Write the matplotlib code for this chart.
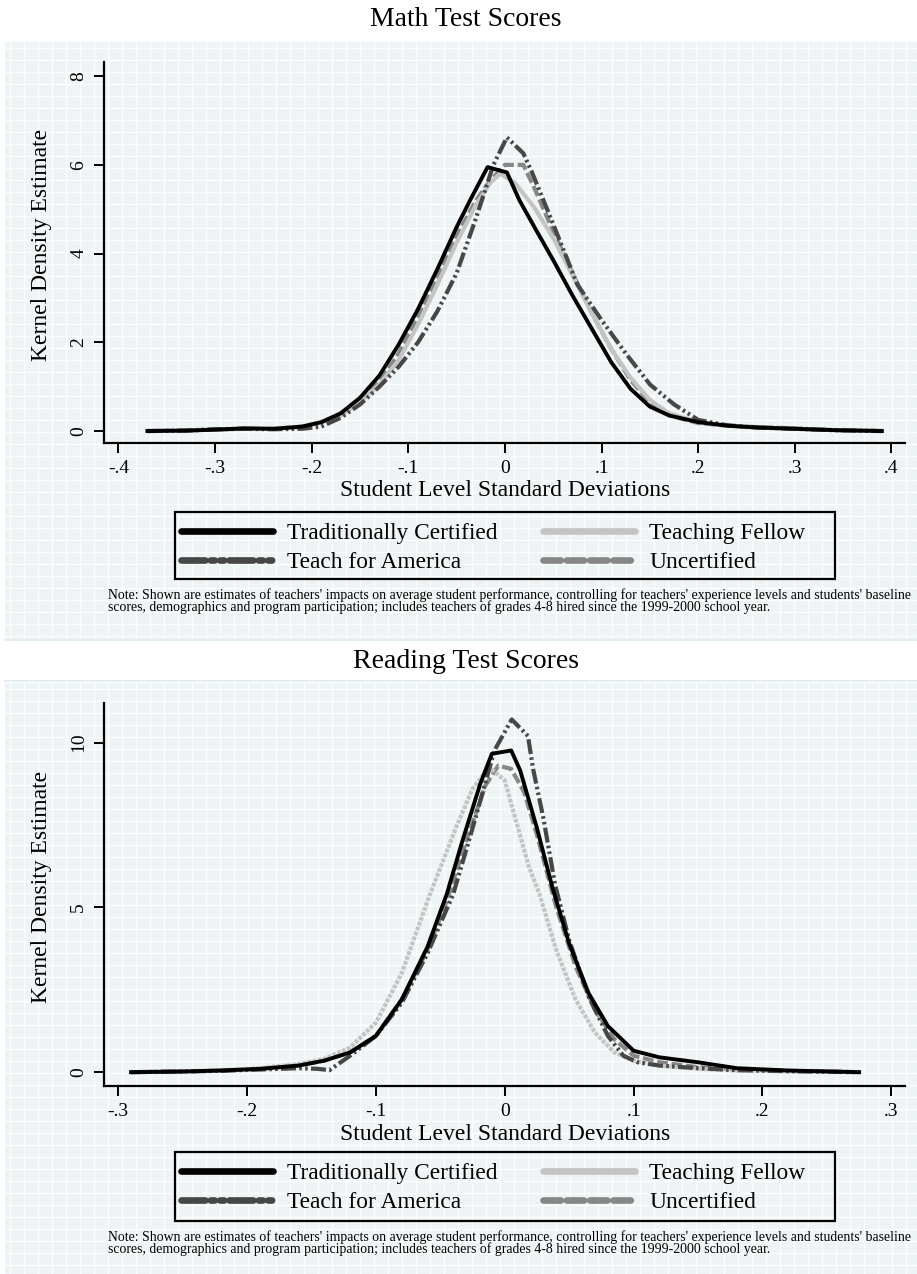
import numpy as np
import matplotlib
matplotlib.use("Agg")
import matplotlib.pyplot as plt
from matplotlib.lines import Line2D

plt.rcParams['font.family'] = ['Liberation Serif', 'DejaVu Serif']

# =========================
# DATA
# =========================
series = ["Traditionally Certified", "Teaching Fellow", "Teach for America", "Uncertified"]

# Math test scores
math_tc_x = [-0.37, -0.33, -0.30, -0.27, -0.24, -0.21, -0.19, -0.17, -0.15, -0.13, -0.11, -0.09, -0.07, -0.05,
             -0.035, -0.018, 0.002, 0.015, 0.033, 0.05, 0.07, 0.09, 0.11, 0.13, 0.15, 0.17, 0.2, 0.23, 0.26,
             0.3, 0.34, 0.39]
math_tc_y = [0.0, 0.01, 0.03, 0.06, 0.05, 0.1, 0.2, 0.4, 0.75, 1.25, 1.95, 2.75, 3.65, 4.6,
             5.25, 5.95, 5.83, 5.2, 4.5, 3.85, 3.05, 2.3, 1.55, 0.95, 0.55, 0.35, 0.2, 0.12, 0.08,
             0.05, 0.02, 0.0]

math_tf_x = [-0.37, -0.33, -0.30, -0.27, -0.24, -0.21, -0.19, -0.17, -0.15, -0.13, -0.11, -0.09, -0.07, -0.05,
             -0.03, -0.015, -0.005, 0.01, 0.03, 0.05, 0.07, 0.09, 0.11, 0.13, 0.15, 0.17, 0.2, 0.23, 0.26,
             0.3, 0.34, 0.39]
math_tf_y = [0.0, 0.01, 0.03, 0.05, 0.05, 0.1, 0.2, 0.35, 0.65, 1.05, 1.6, 2.4, 3.3, 4.25,
             5.1, 5.6, 5.8, 5.6, 5.05, 4.35, 3.5, 2.65, 1.85, 1.2, 0.7, 0.4, 0.2, 0.12, 0.08,
             0.05, 0.02, 0.0]

math_tfa_x = [-0.37, -0.33, -0.30, -0.27, -0.24, -0.21, -0.19, -0.17, -0.15, -0.13, -0.11, -0.09, -0.07, -0.05,
              -0.03, -0.012, 0.002, 0.019, 0.028, 0.047, 0.075, 0.1, 0.125, 0.15, 0.175, 0.2, 0.23, 0.26,
              0.3, 0.34, 0.39]
math_tfa_y = [0.0, 0.01, 0.04, 0.05, 0.04, 0.05, 0.1, 0.3, 0.6, 1.0, 1.45, 2.0, 2.7, 3.56,
              4.8, 6.0, 6.62, 6.26, 5.83, 4.82, 3.3, 2.5, 1.75, 1.05, 0.6, 0.25, 0.13, 0.08,
              0.05, 0.02, 0.0]

math_unc_x = [-0.37, -0.33, -0.30, -0.27, -0.24, -0.21, -0.19, -0.17, -0.15, -0.13, -0.11, -0.09, -0.07, -0.05,
              -0.03, -0.015, 0.0, 0.019, 0.03, 0.05, 0.07, 0.09, 0.11, 0.13, 0.15, 0.17, 0.2, 0.23, 0.26,
              0.3, 0.34, 0.39]
math_unc_y = [0.0, 0.01, 0.04, 0.05, 0.05, 0.1, 0.2, 0.38, 0.7, 1.1, 1.75, 2.6, 3.5, 4.4,
              5.2, 5.65, 6.0, 6.0, 5.5, 4.5, 3.55, 2.65, 1.85, 1.15, 0.65, 0.35, 0.18, 0.12, 0.09,
              0.06, 0.02, 0.0]

# Reading test scores
read_tc_x = [-0.29, -0.25, -0.22, -0.19, -0.16, -0.14, -0.12, -0.1, -0.08, -0.06, -0.045, -0.033, -0.019, -0.01,
             0.005, 0.012, 0.025, 0.037, 0.05, 0.065, 0.08, 0.1, 0.12, 0.15, 0.18, 0.22, 0.275]
read_tc_y = [0.0, 0.02, 0.05, 0.1, 0.2, 0.35, 0.6, 1.1, 2.2, 3.8, 5.4, 7.0, 8.75, 9.66,
             9.76, 9.15, 7.4, 5.6, 3.9, 2.4, 1.4, 0.65, 0.45, 0.3, 0.12, 0.05, 0.0]

read_tf_x = [-0.29, -0.25, -0.22, -0.19, -0.16, -0.14, -0.12, -0.1, -0.08, -0.058, -0.037, -0.025, -0.012, 0.0,
             0.006, 0.019, 0.027, 0.04, 0.055, 0.07, 0.085, 0.1, 0.12, 0.15, 0.18, 0.22, 0.275]
read_tf_y = [0.0, 0.02, 0.06, 0.12, 0.25, 0.4, 0.75, 1.5, 3.0, 5.4, 7.5, 8.6, 9.25, 8.85,
             8.0, 6.2, 5.4, 3.7, 2.2, 1.2, 0.6, 0.35, 0.2, 0.1, 0.05, 0.02, 0.0]

read_tfa_x = [-0.29, -0.25, -0.22, -0.19, -0.16, -0.145, -0.136, -0.12, -0.1, -0.08, -0.06, -0.04, -0.025, -0.008,
              0.0054, 0.018, 0.022, 0.03, 0.039, 0.05, 0.065, 0.08, 0.092, 0.103, 0.12, 0.15, 0.18, 0.22, 0.275]
read_tfa_y = [0.0, 0.02, 0.04, 0.08, 0.12, 0.1, 0.06, 0.5, 1.1, 2.1, 3.6, 5.4, 7.4, 9.76,
              10.7, 10.2, 9.2, 7.7, 5.7, 4.0, 2.3, 1.1, 0.5, 0.3, 0.2, 0.12, 0.06, 0.03, 0.0]

read_unc_x = [-0.29, -0.25, -0.22, -0.19, -0.16, -0.14, -0.12, -0.1, -0.08, -0.06, -0.045, -0.03, -0.015, -0.005,
              0.005, 0.015, 0.025, 0.04, 0.055, 0.07, 0.085, 0.1, 0.12, 0.15, 0.18, 0.22, 0.275]
read_unc_y = [0.0, 0.02, 0.05, 0.1, 0.2, 0.35, 0.6, 1.1, 2.2, 3.7, 5.2, 7.0, 8.7, 9.3,
              9.2, 8.5, 7.2, 5.0, 3.2, 1.9, 1.0, 0.5, 0.3, 0.15, 0.08, 0.04, 0.0]

math_xticks = [-0.4, -0.3, -0.2, -0.1, 0, 0.1, 0.2, 0.3, 0.4]
math_xlabels = ["-.4", "-.3", "-.2", "-.1", "0", ".1", ".2", ".3", ".4"]
math_yticks = [0, 2, 4, 6, 8]
read_xticks = [-0.3, -0.2, -0.1, 0, 0.1, 0.2, 0.3]
read_xlabels = ["-.3", "-.2", "-.1", "0", ".1", ".2", ".3"]
read_yticks = [0, 5, 10]

note_lines = ["Note: Shown are estimates of teachers' impacts on average student performance, controlling for "
              "teachers' experience levels and students' baseline",
              "scores, demographics and program participation; includes teachers of grades 4-8 hired since "
              "the 1999-2000 school year."]

# =========================
# STYLES
# =========================
W, H = 917, 1274
BG = "#eef4f5"
tc_style = dict(color="black", linestyle="-", lw=2.8)
tf_top_style = dict(color="#c4c4c4", linestyle="-", lw=3.0)
tf_bot_style = dict(color="#c4c4c4", linestyle=(0, (0.9, 0.35)), lw=3.0)
tfa_style = dict(color="#474747", linestyle=(0, (3.6, 0.8, 0.6, 0.8, 0.6, 0.8)), lw=3.0)
unc_style = dict(color="#878787", linestyle=(0, (2.6, 0.9)), lw=3.0)

fig = plt.figure(figsize=(W / 100, H / 100), dpi=100)
fig.patch.set_facecolor("white")

# background panels with the faint white grid
bg = fig.add_axes([0, 0, 1, 1], zorder=-5)
bg.set_xlim(0, W)
bg.set_ylim(H, 0)
bg.axis("off")
for top, bot in [(42, 639), (683, H)]:
    bg.add_patch(plt.Rectangle((5, top), W - 5, bot - top, facecolor=BG, edgecolor="none"))
    for gx in np.arange(10, W, 14):
        bg.plot([gx, gx], [top, bot], color="white", lw=1.0, alpha=0.9)
    for gy in np.arange(top + 6, bot, 12):
        bg.plot([5, W], [gy, gy], color="white", lw=1.0, alpha=0.9)
bg.plot([5, W], [640, 640], color="#e4eef0", lw=1.5)
bg.plot([5, W], [681, 681], color="#e4eef0", lw=1.5)
# legend boxes
for top, bot in [(512, 579), (1152, 1221)]:
    bg.add_patch(plt.Rectangle((175, top), 660, bot - top, facecolor="none", edgecolor="black",
                               lw=1.6, zorder=5))


def px_axes(left, right, top, bottom):
    return fig.add_axes([left / W, 1 - bottom / H, (right - left) / W, (bottom - top) / H])


def style_axes(ax, xticks, xlabels, yticks):
    ax.set_facecolor("none")
    for s in ["top", "right"]:
        ax.spines[s].set_visible(False)
    for s in ["left", "bottom"]:
        ax.spines[s].set_linewidth(1.6)
    ax.set_xticks(xticks)
    ax.set_xticklabels(xlabels)
    ax.set_yticks(yticks)
    ax.set_yticklabels([str(t) for t in yticks], rotation=90, va="center")
    ax.tick_params(direction="out", length=7, width=1.4, labelsize=14, pad=5)


# =========================
# MATH PANEL
# =========================
ax1 = px_axes(104, 905, 62, 443)
ax1.plot(math_unc_x, math_unc_y, **unc_style)
ax1.plot(math_tf_x, math_tf_y, **tf_top_style)
ax1.plot(math_tfa_x, math_tfa_y, **tfa_style)
ax1.plot(math_tc_x, math_tc_y, **tc_style)
ax1.set_xlim(-0.415, 0.414)
ax1.set_ylim(-0.27, 8.32)
style_axes(ax1, math_xticks, math_xlabels, math_yticks)

# =========================
# READING PANEL
# =========================
ax2 = px_axes(104, 905, 703, 1086)
ax2.plot(read_unc_x, read_unc_y, **unc_style)
ax2.plot(read_tf_x, read_tf_y, **tf_bot_style)
ax2.plot(read_tfa_x, read_tfa_y, **tfa_style)
ax2.plot(read_tc_x, read_tc_y, **tc_style)
ax2.set_xlim(-0.311, 0.3106)
ax2.set_ylim(-0.42, 11.2)
style_axes(ax2, read_xticks, read_xlabels, read_yticks)

# =========================
# TEXT, LEGENDS, NOTES
# =========================
for title, ty in [("Math Test Scores", 20), ("Reading Test Scores", 662)]:
    fig.text(466 / W, 1 - ty / H, title, ha="center", va="center", fontsize=20)

for ly, xy in [(245, 491), (887, 1134)]:
    fig.text(42 / W, 1 - ly / H, "Kernel Density Estimate", rotation=90, ha="center", va="center", fontsize=17)
    fig.text(505 / W, 1 - xy / H, "Student Level Standard Deviations", ha="center", va="center", fontsize=17)

for tf_style, leg_top, note_y in [(tf_top_style, 523, 595), (tf_bot_style, 1163, 1237)]:
    handles = []
    for st in [tc_style, tfa_style, tf_style, unc_style]:
        s = dict(st)
        s["lw"] = 4.8
        handles.append(Line2D([], [], solid_capstyle="round", dash_capstyle="round", **s))
    labels = [series[0], series[2], series[1], series[3]]
    fig.legend(handles, labels, loc="upper left", bbox_to_anchor=(181 / W, 1 - leg_top / H),
               ncol=2, fontsize=16.8, frameon=False, borderpad=0, borderaxespad=0,
               handlelength=3.95, handletextpad=0.6, columnspacing=1.95, labelspacing=0.3)
    for i, line in enumerate(note_lines):
        fig.text(108 / W, 1 - (note_y + 12 * i) / H, line, ha="left", va="center", fontsize=9.9)

fig.savefig("out.png", dpi=100)
